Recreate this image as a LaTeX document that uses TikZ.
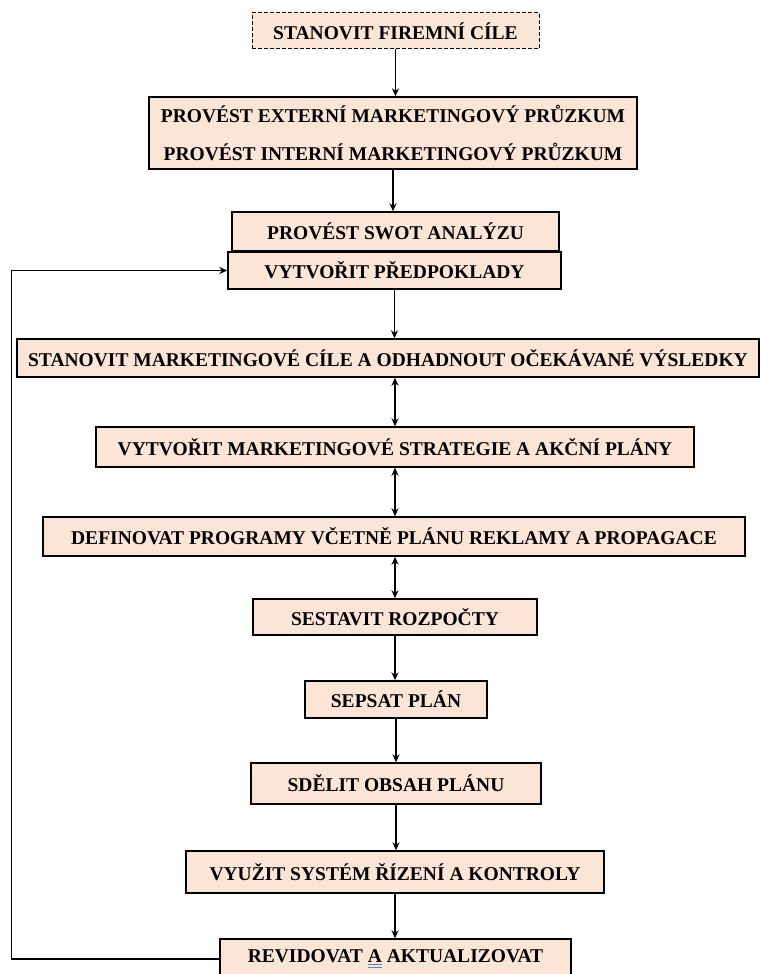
\documentclass[tikz,border=0pt]{standalone}
\usepackage{fontspec}
\setmainfont{Liberation Serif}
\usepackage{xcolor}
\usepackage{tikz}
\usetikzlibrary{shapes,positioning,arrows.meta}
\definecolor{peach}{HTML}{FBE5D6}
\definecolor{ulblue}{HTML}{4F7FD9}
\newsavebox{\ulbox}
\newcommand{\dblul}[1]{\sbox{\ulbox}{#1}\rlap{\color{ulblue}\rule[-2.5pt]{\wd\ulbox}{1pt}}\rlap{\color{ulblue}\rule[-5.5pt]{\wd\ulbox}{1pt}}\usebox{\ulbox}}
\tikzset{stepbox/.style={rectangle,draw,line width=1.4pt,fill=peach,inner sep=0pt,align=center,font=\fontsize{19.5}{23}\selectfont\bfseries}}
\tikzset{goalbox/.style={stepbox,line width=1pt,dash pattern=on 4pt off 2pt}}

\begin{document}
\begin{tikzpicture}[x=1pt,y=-1pt,>={Stealth[length=8pt,width=7pt]},line width=1.4pt]
        \useasboundingbox (0,0) rectangle (760,974);
        \node[goalbox,minimum width=287pt,minimum height=36pt] (firma) at (395.5,31) {STANOVIT FIREMNÍ CÍLE};
        \node[stepbox,minimum width=488pt,minimum height=72pt,font=\fontsize{19.5}{38}\selectfont\bfseries] (pruzkum) at (393,133) {PROVÉST EXTERNÍ MARKETINGOVÝ PRŮZKUM\\PROVÉST INTERNÍ MARKETINGOVÝ PRŮZKUM};
        \node[stepbox,minimum width=327pt,minimum height=39pt] (swot) at (395.5,231.5) {PROVÉST SWOT ANALÝZU};
        \node[stepbox,minimum width=333pt,minimum height=37pt] (predpoklady) at (394.5,270.5) {VYTVOŘIT PŘEDPOKLADY};
        \node[stepbox,minimum width=742pt,minimum height=38pt] (cile) at (388,358) {STANOVIT MARKETINGOVÉ CÍLE A ODHADNOUT OČEKÁVANÉ VÝSLEDKY};
        \node[stepbox,minimum width=598pt,minimum height=40pt] (strategie) at (395,447) {VYTVOŘIT MARKETINGOVÉ STRATEGIE A AKČNÍ PLÁNY};
        \node[stepbox,minimum width=702pt,minimum height=39pt] (programy) at (394,536.5) {DEFINOVAT PROGRAMY VČETNĚ PLÁNU REKLAMY A PROPAGACE};
        \node[stepbox,minimum width=284pt,minimum height=36pt] (rozpocty) at (395,617) {SESTAVIT ROZPOČTY};
        \node[stepbox,minimum width=182pt,minimum height=37pt] (plan) at (396,699.5) {SEPSAT PLÁN};
        \node[stepbox,minimum width=290pt,minimum height=41pt] (obsah) at (396,783.5) {SDĚLIT OBSAH PLÁNU};
        \node[stepbox,minimum width=418pt,minimum height=42pt] (rizeni) at (395,872) {VYUŽIT SYSTÉM ŘÍZENÍ A KONTROLY};
        \node[stepbox,minimum width=351pt,minimum height=40pt] (revize) at (395.5,959) {REVIDOVAT \dblul{A} AKTUALIZOVAT};
        \coordinate (loop) at (11.7,959);

        \draw [->] (firma.south) -- (firma.south |- pruzkum.north);
        \draw [->] (pruzkum.south) -- (pruzkum.south |- swot.north);
        \draw [->] (predpoklady.south) -- (predpoklady.south |- cile.north);
        \draw [<->] (strategie.north |- cile.south) -- (strategie.north);
        \draw [<->] (strategie.south) -- (strategie.south |- programy.north);
        \draw [<->] (rozpocty.north |- programy.south) -- (rozpocty.north);
        \draw [->] (rozpocty.south) -- (rozpocty.south |- plan.north);
        \draw [->] (plan.south) -- (plan.south |- obsah.north);
        \draw [->] (obsah.south) -- (obsah.south |- rizeni.north);
        \draw [->] (rizeni.south) -- (rizeni.south |- revize.north);
        \draw [->] (revize.west) -- (loop) |- (predpoklady.west);
    \end{tikzpicture}
\end{document}
